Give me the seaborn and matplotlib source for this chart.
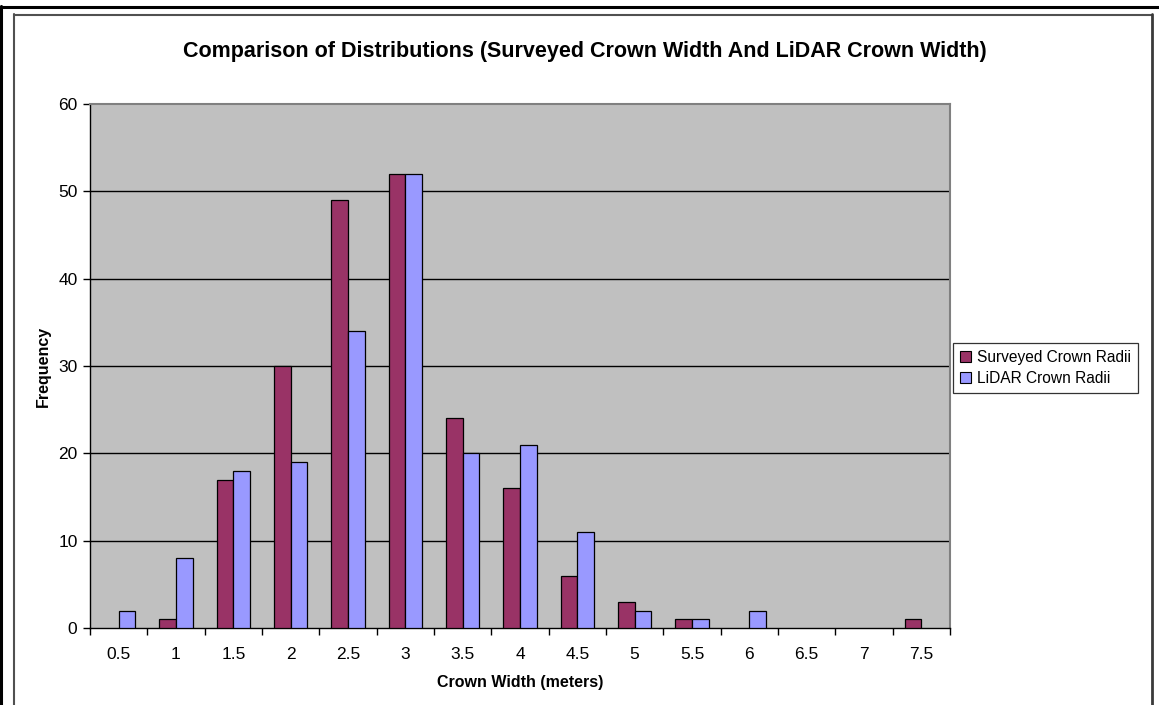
import numpy as np
import pandas as pd
import matplotlib
matplotlib.use("Agg")
import matplotlib.pyplot as plt
from matplotlib.patches import Rectangle
from matplotlib.lines import Line2D
import seaborn as sns

# Crown width bins (meters) and frequencies for each measurement source
bins = ["0.5", "1", "1.5", "2", "2.5", "3", "3.5", "4", "4.5", "5", "5.5", "6", "6.5", "7", "7.5"]
surveyed = [0, 1, 17, 30, 49, 52, 24, 16, 6, 3, 1, 0, 0, 0, 1]
lidar = [2, 8, 18, 19, 34, 52, 20, 21, 11, 2, 1, 2, 0, 0, 0]
series_names = ["Surveyed Crown Radii", "LiDAR Crown Radii"]
y_ticks = [0, 10, 20, 30, 40, 50, 60]

df = pd.DataFrame({
    "bin": bins * 2,
    "freq": surveyed + lidar,
    "series": [series_names[0]] * len(bins) + [series_names[1]] * len(bins),
})

sns.set_theme(style="white")
plt.rcParams["font.family"] = ["Liberation Sans", "DejaVu Sans"]
plt.rcParams["text.color"] = "black"
plt.rcParams["axes.labelcolor"] = "black"
plt.rcParams["xtick.color"] = "black"
plt.rcParams["ytick.color"] = "black"

W, H = 1159, 705
fig = plt.figure(figsize=(W / 100, H / 100), dpi=100)
fig.patch.set_facecolor("white")
ax = fig.add_axes([90 / W, 1 - 628 / H, (950 - 90) / W, (628 - 104) / H])
ax.set_facecolor("#C0C0C0")

sns.barplot(
    data=df, x="bin", y="freq", hue="series", order=bins, hue_order=series_names,
    palette=["#993366", "#9999FF"], width=0.58, edgecolor="black", linewidth=0.9,
    saturation=1, ax=ax, zorder=3,
)
# empty bins draw nothing
for p in ax.patches:
    if p.get_height() == 0:
        p.set_visible(False)

ax.set_xlim(-0.5, len(bins) - 0.5)
ax.set_ylim(0, 60)
ax.set_yticks(y_ticks)
ax.set_yticklabels([str(v) for v in y_ticks], fontsize=12.5)
for v in y_ticks[1:-1]:
    ax.axhline(v, color="black", linewidth=1.0, zorder=1)

ax.set_xticks(np.arange(len(bins)))
ax.set_xticklabels(bins, fontsize=12.5)
ax.set_xticks(np.arange(-0.5, len(bins), 1.0), minor=True)
ax.tick_params(axis="x", which="major", bottom=True, length=0, pad=14, colors="black")
ax.tick_params(axis="x", which="minor", bottom=True, length=5, width=1, direction="out", color="black")
ax.tick_params(axis="y", left=True, length=5, width=1, direction="out", color="black", pad=4)

for side in ["left", "bottom"]:
    ax.spines[side].set_color("black")
    ax.spines[side].set_linewidth(1.0)
for side in ["top", "right"]:
    ax.spines[side].set_color("#808080")
    ax.spines[side].set_linewidth(1.5)

ax.set_xlabel("Crown Width (meters)", fontsize=11.5, fontweight="bold", labelpad=9)
ax.set_ylabel("Frequency", fontsize=11.5, fontweight="bold", labelpad=5)

fig.text(585 / W, 1 - 52 / H, "Comparison of Distributions (Surveyed Crown Width And LiDAR Crown Width)",
         ha="center", va="center", fontsize=15.5, fontweight="bold")

handles = [Rectangle((0, 0), 1, 1, facecolor=c, edgecolor="black", linewidth=0.8)
           for c in ["#993366", "#9999FF"]]
leg = ax.legend(handles, series_names, loc="center left",
                bbox_to_anchor=(953 / W, 1 - 368 / H), bbox_transform=fig.transFigure,
                fontsize=11.2, frameon=True, fancybox=False, edgecolor="black",
                handlelength=0.7, handleheight=0.7, handletextpad=0.4,
                borderpad=0.45, labelspacing=0.35, borderaxespad=0)
leg.get_frame().set_linewidth(0.9)

# Chart area border and outer page frame, in pixel coordinates
def hline(x0, x1, y, color, lw):
    fig.add_artist(Line2D([x0 / W, x1 / W], [1 - y / H, 1 - y / H], color=color, linewidth=lw,
                          transform=fig.transFigure))

def vline(x, y0, y1, color, lw):
    fig.add_artist(Line2D([x / W, x / W], [1 - y0 / H, 1 - y1 / H], color=color, linewidth=lw,
                          transform=fig.transFigure))

hline(1, W, 6.5, "black", 2.2)
vline(1.5, 6, H, "black", 2.2)
hline(13.5, 1152, 14.5, "#505050", 1.5)
vline(13.8, 14, H, "#505050", 1.5)
vline(1151.5, 14, H, "#3a3a3a", 2.0)

fig.savefig("out.png", dpi=100, facecolor="white")
